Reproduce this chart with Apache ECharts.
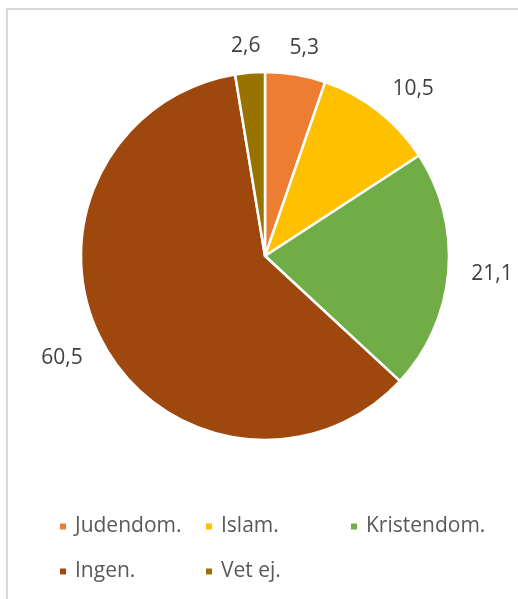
<!DOCTYPE html>
<html>
<head>
<meta charset="utf-8">
<script src="https://cdn.jsdelivr.net/npm/echarts@6/dist/echarts.min.js"></script>
<style>
  html, body { margin: 0; padding: 0; background: #fff; }
  #main { width: 518px; height: 599px; }
</style>
</head>
<body>
<div id="main"></div>
<script>
// data
var categories = ['Judendom.', 'Islam.', 'Kristendom.', 'Ingen.', 'Vet ej.'];
var values = [5.3, 10.5, 21.1, 60.5, 2.6];
var colors = ['#ED7D31', '#FFC000', '#70AD47', '#9E480E', '#997300'];

var FONT = '"Open Sans", "Noto Sans", sans-serif';
var CX = 265, CY = 256;

var chart = echarts.init(document.getElementById('main'));

var pieData = categories.map(function (name, i) {
    return { name: name, value: values[i], itemStyle: { color: colors[i] } };
});

// legend placed in a 3-column grid, one legend per item
var legendPos = [[58, 516], [204, 516], [349, 516], [58, 561], [204, 561]];
var legends = categories.map(function (name, i) {
    return {
        data: [name],
        left: legendPos[i][0],
        top: legendPos[i][1],
        padding: 0,
        icon: 'rect',
        itemWidth: 8,
        itemHeight: 8,
        selectedMode: false,
        textStyle: { fontFamily: FONT, fontSize: 21, color: '#595959', padding: [0, 0, 0, 3] }
    };
});

var option = {
    backgroundColor: '#fff',
    animation: false,
    graphic: [{
        type: 'rect',
        shape: { x: 7, y: 9, width: 600, height: 700 },
        style: { fill: 'none', stroke: '#d9d9d9', lineWidth: 2 },
        silent: true
    }],
    legend: legends,
    series: [
        {
            type: 'pie',
            center: [CX, CY],
            radius: [0, 184],
            startAngle: 90,
            clockwise: true,
            itemStyle: { borderColor: '#fff', borderWidth: 2.5 },
            label: { show: false },
            labelLine: { show: false },
            emphasis: { scale: false },
            data: pieData
        },
        {
            // invisible ring, only used to place value labels around the pie
            type: 'pie',
            center: [CX, CY],
            radius: [200, 250],
            startAngle: 90,
            silent: true,
            itemStyle: { color: 'rgba(0,0,0,0)' },
            label: {
                show: true,
                position: 'inside',
                fontFamily: FONT,
                fontSize: 21,
                color: '#404040',
                formatter: function (p) { return String(p.value).replace('.', ','); }
            },
            labelLine: { show: false },
            // anchor the label box (corner / edge) on the slice's mid ray, just outside the pie
            labelLayout: function (p) {
                var r = p.labelRect;
                var mx = r.x + r.width / 2 - CX;
                var my = r.y + r.height / 2 - CY;
                var len = Math.sqrt(mx * mx + my * my);
                var ux = mx / len, uy = my / len;
                var sx = Math.max(-1, Math.min(1, ux * 2));
                var sy = Math.max(-1, Math.min(1, uy * 2));
                var R = 207;
                return {
                    x: CX + ux * R + sx * r.width / 2,
                    y: CY + uy * R + sy * 4,
                    align: 'center',
                    verticalAlign: 'middle'
                };
            },
            data: categories.map(function (name, i) { return { name: name, value: values[i] }; })
        }
    ]
};

chart.setOption(option);

window.addEventListener('resize', function () {
    chart.resize();
});
</script>
</body>
</html>
